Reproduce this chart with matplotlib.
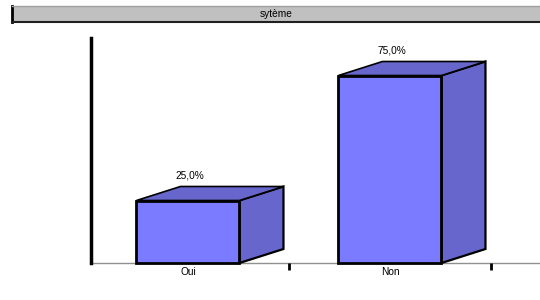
import matplotlib
matplotlib.use("Agg")
import matplotlib.pyplot as plt
from matplotlib.patches import Polygon, Rectangle

categories = ["Oui", "Non"]
values = [25.0, 75.0]
value_labels = ["25,0%", "75,0%"]
title = "sytème"

plt.rcParams['font.family'] = ['Liberation Sans', 'DejaVu Sans']

W, H = 540, 300
fig = plt.figure(figsize=(W / 100, H / 100), dpi=100)

# title bar
tb = fig.add_axes([12 / W, 1 - 22 / H, 1 - 12 / W, 16 / H])
tb.set_xticks([]); tb.set_yticks([])
tb.set_facecolor("#c0c0c0")
tb.spines["right"].set_visible(False)
tb.spines["left"].set_linewidth(2); tb.spines["left"].set_color("black")
tb.spines["bottom"].set_linewidth(1.5); tb.spines["bottom"].set_color("#202020")
tb.spines["top"].set_linewidth(1); tb.spines["top"].set_color("#a0a0a0")
tb.text(0.5, 0.5, title, ha="center", va="center", fontsize=7.3, transform=tb.transAxes)

# main axes
x0, x1 = -0.48, 1.5
left_px = 91
px_per_cat = 202
ax_w = (x1 - x0) * px_per_cat
ax = fig.add_axes([left_px / W, (H - 263) / H, ax_w / W, 225 / H])
ax.set_xlim(x0, x1)
ax.set_ylim(0, 90)
for s in ("top", "right", "bottom"):
    ax.spines[s].set_visible(False)
ax.spines["left"].set_linewidth(2.5)
ax.spines["left"].set_color("black")
ax.set_yticks([])
ax.set_xticks([0.5, 1.5])
ax.set_xticklabels([])
ax.tick_params(axis="x", length=5, width=2, direction="out", color="black")
ax.axhline(0, color="#909090", lw=1, xmin=0, xmax=1.3, clip_on=False, zorder=1)

bw = 0.51
dx = 44 / px_per_cat
dy = 14 / 2.5
front = "#7b7bff"
side = "#6666cc"
for i, (v, lab) in enumerate(zip(values, value_labels)):
    xl, xr = i - bw / 2, i + bw / 2
    ax.add_patch(Polygon([(xr, 0), (xr + dx, dy), (xr + dx, v + dy), (xr, v)],
                         closed=True, facecolor=side, edgecolor="black", lw=1.6,
                         clip_on=False, zorder=3, joinstyle="miter"))
    ax.add_patch(Polygon([(xl, v), (xl + dx, v + dy), (xr + dx, v + dy), (xr, v)],
                         closed=True, facecolor=side, edgecolor="black", lw=1.2,
                         clip_on=False, zorder=3, joinstyle="miter"))
    ax.add_patch(Rectangle((xl, 0), bw, v, facecolor=front, edgecolor="black",
                           lw=2, clip_on=False, zorder=4, joinstyle="miter"))
    ax.text(i + 0.01, v + dy + 2.5, lab, ha="center", va="bottom", fontsize=7.3)
    ax.text(i, -1.6, categories[i], ha="center", va="top", fontsize=7.3)

fig.savefig("out.png", dpi=100)
